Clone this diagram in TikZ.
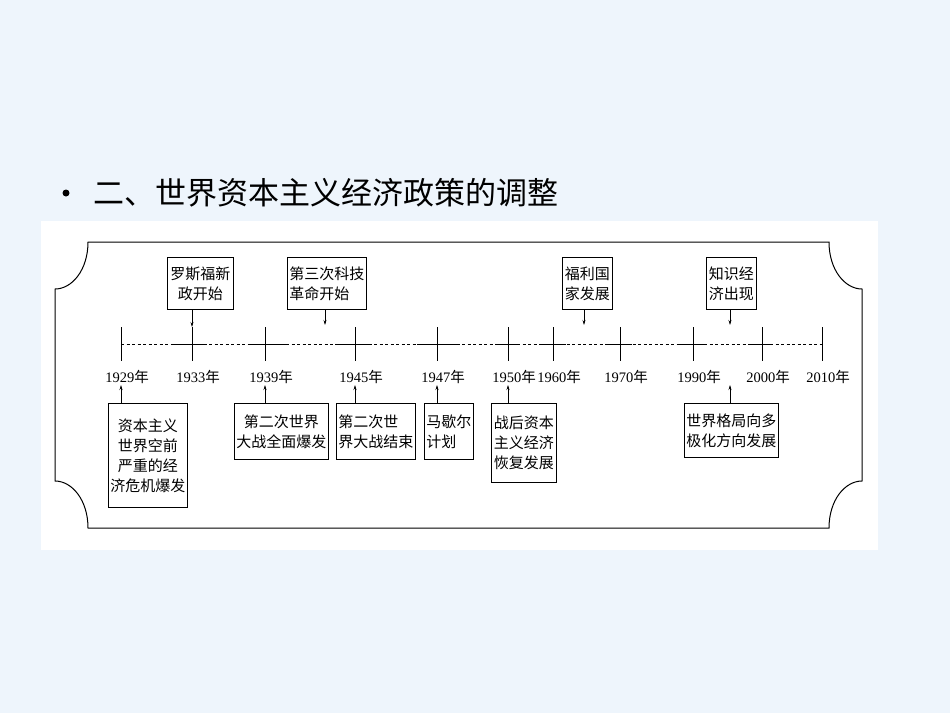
\documentclass[tikz,border=0pt]{standalone}
\usepackage{fontspec}
\setmainfont{Liberation Serif}
\newfontfamily\cjk{Noto Sans CJK SC}
\usetikzlibrary{arrows.meta}
\definecolor{bgc}{HTML}{EEF5FC}
\tikzset{
  box/.style={draw, line width=0.9pt, inner sep=2pt, align=left, font=\cjk\fontsize{15}{20}\selectfont, anchor=north west},
  yr/.style={font=\fontsize{14.5}{15}\selectfont, inner sep=0pt},
  tk/.style={line width=0.8pt},
  arr/.style={line width=0.6pt, -{Stealth[length=5pt,width=3pt]}},
}
\begin{document}
\begin{tikzpicture}[x=1pt,y=-1pt]
\fill[bgc] (0,0) rectangle (950,713);
\useasboundingbox (0,0) rectangle (950,713);
\fill[white] (41,221) rectangle (878,550);
\fill (66,193) circle (3.5pt);
\coordinate (bul) at (66,193);
\node[anchor=west, font=\cjk\fontsize{31}{33}\selectfont, inner sep=0pt] (title) at (93,193) {二、世界资本主义经济政策的调整};
% frame
\draw[line width=1pt] (88,242) -- (829,242)
  .. controls (829,270) and (845,289) .. (862,289) -- (862,481)
  .. controls (845,481) and (829,500) .. (829,528) -- (88,528)
  .. controls (88,500) and (72,481) .. (55,481) -- (55,289)
  .. controls (72,289) and (88,270) .. (88,242) -- cycle;
% timeline
\coordinate (L) at (121,344); \coordinate (R) at (822,344);
\draw[line width=0.8pt, dash pattern=on 3pt off 2.5pt] (L) -- (R);
\foreach \a/\b in {172/207,248/288,335/370,417/457,497/520,542/566,605/632,680/706,748/772}
  \draw[tk] (\a,344) -- (\b,344);
\foreach \x/\y [count=\i] in {121/1929,192/1933,265/1939,355/1945,437/1947,508/1950,553/1960,620/1970,693/1990,762/2000,822/2010}{
  \draw[tk] (\x,327) -- (\x,361);
  \coordinate (t\i) at (\x,327);
  \coordinate (b\i) at (\x,385);
  \node[yr] (y\i) at (\x+6,377) {\y{\cjk 年}};
}
% top boxes
\node[box, minimum width=66pt, minimum height=52pt, align=center] (n1) at (167,257) {罗斯福新\\政开始};
\node[box, minimum width=77pt, minimum height=52pt] (n2) at (287,257) {第三次科技\\革命开始};
\node[box, minimum width=50pt, minimum height=52pt] (n3) at (562,257) {福利国\\家发展};
\node[box, minimum width=50pt, minimum height=52pt] (n4) at (706,257) {知识经\\济出现};
\draw[arr] (n1.south -| t2) -- (t2);
\draw[arr] (325,309) -- (325,325);
\draw[arr] (584,309) -- (584,325);
\draw[arr] (730,309) -- (730,325);
% bottom boxes
\node[box, minimum width=78pt, minimum height=104pt, align=center] (m1) at (108,403) {资本主义\\世界空前\\严重的经\\济危机爆发};
\node[box, minimum width=92pt, minimum height=56pt, align=center] (m2) at (234,403) {第二次世界\\大战全面爆发};
\node[box, minimum width=77pt, minimum height=56pt] (m3) at (336,403) {第二次世\\界大战结束};
\node[box, minimum width=46pt, minimum height=56pt] (m4) at (424,403) {马歇尔\\计划};
\node[box, minimum width=65pt, minimum height=79pt, align=center] (m5) at (491,403) {战后资本\\主义经济\\恢复发展};
\node[box, minimum width=92pt, minimum height=54pt, align=center] (m6) at (684,403) {世界格局向多\\极化方向发展};
\draw[arr] (121,403) -- (b1);
\draw[arr] (265,403) -- (b3);
\draw[arr] (355,403) -- (b4);
\draw[arr] (437,403) -- (b5);
\draw[arr] (508,403) -- (b6);
\draw[arr] (730,403) -- (730,385);
\end{tikzpicture}
\end{document}
